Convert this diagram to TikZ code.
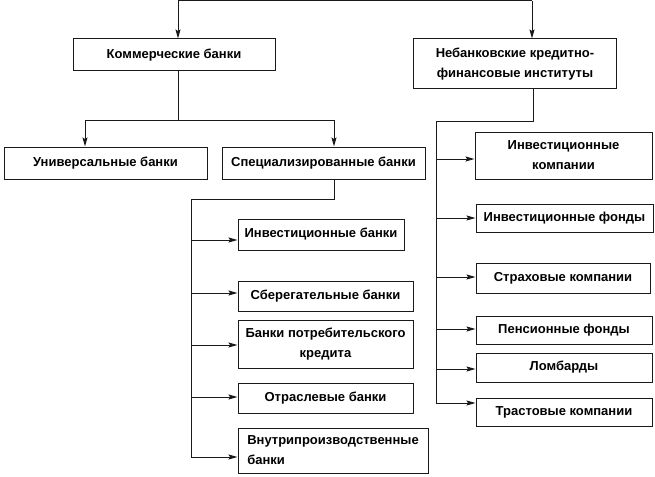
\documentclass[tikz,border=0pt]{standalone}
\usepackage{fontspec}
\setmainfont{Liberation Sans}
\usepackage{tikz}
\usetikzlibrary{arrows.meta, positioning, calc}
\definecolor{frame}{HTML}{1A1A1A}

\begin{document}
\begin{tikzpicture}[
    x=1pt, y=-1pt,
    inst/.style={rectangle, draw=frame, line width=1pt, fill=white, inner sep=3pt, align=center, font=\fontsize{13}{20}\selectfont\bfseries},
    link/.style={line width=1pt, color=frame},
    linkarrow/.style={-{Stealth[length=9pt, width=5pt, inset=1.5pt]}, line width=1pt, color=frame},
  ]
  \useasboundingbox (0,0) rectangle (655,476);

  % top level
  \node[inst, minimum width=202pt, minimum height=32pt] (kom) at (174,55) {Коммерческие банки};
  \node[inst, minimum width=203pt, minimum height=50pt] (neb) at (515,64) {Небанковские кредитно-\\финансовые институты};

  % commercial banks
  \node[inst, minimum width=203pt, minimum height=32pt] (univ) at (105.5,163) {Универсальные банки};
  \node[inst, minimum width=203pt, minimum height=32pt] (spec) at (323.5,163) {Специализированные банки};

  % specialised banks
  \node[inst, minimum width=166pt, minimum height=31pt] (invb) at (321,234.5) {Инвестиционные банки};
  \node[inst, minimum width=175pt, minimum height=30pt] (sber) at (325.5,296) {Сберегательные банки};
  \node[inst, minimum width=175pt, minimum height=48pt] (potr) at (325.5,344) {Банки потребительского\\кредита};
  \node[inst, minimum width=175pt, minimum height=30pt] (otr) at (325.5,398) {Отраслевые банки};
  \node[inst, minimum width=190pt, minimum height=45pt, align=left] (vnutr) at (333,450.5) {Внутрипроизводственные\\банки};

  % non-bank institutions
  \node[inst, minimum width=177pt, minimum height=47pt] (invk) at (563.5,155.5) {Инвестиционные\\компании};
  \node[inst, minimum width=177pt, minimum height=28pt] (invf) at (564.5,218) {Инвестиционные фонды};
  \node[inst, minimum width=174pt, minimum height=30pt] (strah) at (563,278) {Страховые компании};
  \node[inst, minimum width=176pt, minimum height=28pt] (pens) at (564,330) {Пенсионные фонды};
  \node[inst, minimum width=176pt, minimum height=29pt] (lomb) at (564,367.5) {Ломбарды};
  \node[inst, minimum width=176pt, minimum height=28pt] (trast) at (564,412) {Трастовые компании};

  % branch points
  \coordinate (topL) at (178,1);
  \coordinate (topR) at (532,1);
  \coordinate (kb) at (178,120);
  \coordinate (ub) at (85,120);
  \coordinate (sb) at (334,120);
  \coordinate (sd) at (334,199);
  \coordinate (sl) at (191,199);
  \coordinate (nd) at (533,121);
  \coordinate (nl) at (436,121);

  \draw[link] (topL) -- (topR);
  \draw[linkarrow] (topL) -- (topL |- kom.north);
  \draw[linkarrow] (topR) -- (topR |- neb.north);

  \draw[link] (kb |- kom.south) -- (kb);
  \draw[link] (ub) -- (sb);
  \draw[linkarrow] (ub) -- (ub |- univ.north);
  \draw[linkarrow] (sb) -- (sb |- spec.north);

  \draw[link] (sd |- spec.south) -- (sd) -- (sl) -- ($(sl)+(0,258)$);
  \foreach \unit/\yy in {invb/240, sber/293, potr/345, otr/397, vnutr/457}
    \draw[linkarrow] (sl |- 0,\yy) -- (\unit.west |- 0,\yy);

  \draw[link] (nd |- neb.south) -- (nd) -- (nl) -- ($(nl)+(0,282)$);
  \foreach \unit/\yy in {invk/159, invf/218, strah/277, pens/329, lomb/369, trast/403}
    \draw[linkarrow] (nl |- 0,\yy) -- (\unit.west |- 0,\yy);
\end{tikzpicture}
\end{document}
